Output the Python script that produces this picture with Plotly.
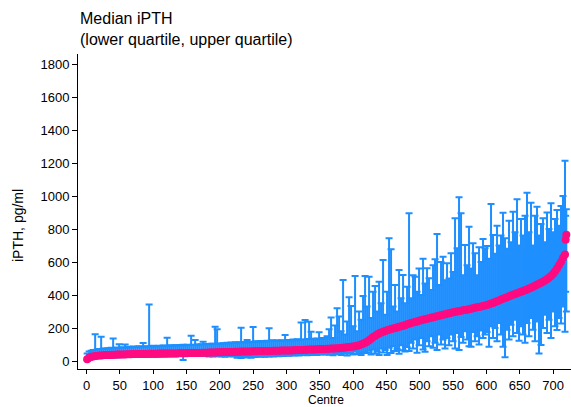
import plotly.graph_objects as go

# Centre rank (sorted by median iPTH)
centres = list(range(1, 719, 3)) + [719, 720]

median = [
    10, 20, 25, 28, 30, 32, 33, 34, 35, 36, 36, 37, 37, 38, 38, 39, 39, 40, 40, 40,
    41, 41, 41, 42, 42, 42, 42, 43, 43, 43, 43, 44, 44, 44, 44, 44, 45, 45, 45, 45,
    45, 46, 46, 46, 46, 46, 47, 47, 47, 47, 47, 48, 48, 48, 48, 49, 49, 49, 50, 50,
    50, 51, 51, 52, 52, 53, 53, 53, 54, 54, 54, 55, 55, 55, 56, 56, 56, 57, 57, 57,
    58, 58, 58, 59, 59, 59, 60, 60, 60, 61, 61, 61, 61, 62, 62, 62, 62, 63, 63, 63,
    63, 64, 64, 65, 65, 66, 66, 67, 67, 68, 68, 69, 69, 70, 70, 71, 71, 72, 73, 73,
    74, 74, 75, 75, 76, 77, 78, 79, 80, 82, 83, 85, 87, 88, 90, 93, 96, 100, 104, 110,
    117, 125, 135, 145, 152, 160, 166, 172, 177, 182, 186, 190, 194, 197, 200, 203, 207, 210, 213, 217,
    222, 226, 230, 233, 236, 240, 244, 247, 250, 253, 256, 259, 262, 265, 268, 271, 274, 277, 280, 283,
    286, 289, 292, 295, 298, 300, 303, 305, 307, 309, 311, 313, 316, 319, 322, 325, 328, 331, 334, 337,
    340, 344, 348, 352, 357, 362, 367, 372, 377, 382, 387, 392, 397, 402, 406, 410, 415, 419, 424, 429,
    434, 439, 444, 450, 456, 462, 468, 474, 480, 488, 496, 505, 515, 527, 542, 560, 580, 600, 625, 645,
    735, 765,
]

upper_q = [
    45, 58, 62, 66, 162, 70, 72, 147, 74, 76, 75, 78, 80, 137, 78, 82, 101, 80, 84, 100,
    82, 86, 84, 88, 85, 87, 90, 86, 109, 88, 90, 343, 89, 92, 88, 91, 93, 90, 94, 92,
    141, 93, 95, 92, 96, 94, 97, 95, 98, 96, 99, 97, 153, 98, 127, 100, 99, 102, 117, 101,
    103, 101, 105, 104, 208, 192, 106, 105, 108, 107, 110, 106, 112, 109, 114, 111, 113, 202, 115, 112,
    127, 114, 117, 206, 116, 119, 118, 121, 117, 120, 123, 198, 122, 125, 121, 124, 122, 126, 123, 158,
    125, 128, 124, 130, 127, 132, 129, 234, 131, 248, 133, 238, 178, 135, 132, 137, 174, 134, 139, 136,
    150, 192, 263, 140, 215, 319, 269, 180, 491, 160, 240, 386, 333, 210, 515, 180, 300, 250, 394, 515,
    330, 511, 260, 420, 455, 300, 480, 350, 612, 280, 420, 744, 677, 330, 460, 300, 552, 380, 521, 350,
    450, 895, 380, 520, 511, 420, 560, 400, 620, 470, 562, 501, 430, 580, 616, 770, 460, 600, 632, 490,
    592, 500, 653, 540, 865, 683, 992, 895, 520, 703, 580, 814, 560, 713, 653, 520, 690, 600, 740, 683,
    697, 620, 952, 764, 650, 820, 700, 760, 899, 744, 680, 850, 720, 905, 780, 980, 700, 860, 760, 880,
    1020, 780, 959, 700, 880, 935, 760, 830, 865, 720, 900, 800, 956, 780, 860, 915, 820, 940, 1000, 1214,
    880, 920,
]

lower_q = [
    4, 8, 12, 14, 16, 18, 18, 19, 20, 20, 21, 21, 22, 22, 22, 23, 23, 24, 24, 24,
    24, 25, 24, 25, 26, 25, 26, 26, 27, 26, 27, 27, 28, 27, 28, 28, 28, 29, 28, 29,
    29, 29, 30, 30, 29, 31, 30, 31, 6, 31, 32, 31, 32, 32, 33, 32, 33, 33, 34, 33,
    30, 28, 31, 27, 30, 29, 32, 28, 31, 26, 30, 29, 33, 27, 31, 20, 28, 18, 30, 22,
    22, 26, 20, 28, 24, 27, 30, 25, 29, 26, 31, 27, 32, 28, 30, 33, 29, 34, 31, 35,
    34, 32, 36, 33, 35, 37, 34, 38, 36, 39, 35, 40, 37, 41, 38, 36, 42, 39, 43, 40,
    44, 38, 50, 35, 48, 42, 55, 37, 46, 52, 33, 50, 45, 40, 58, 42, 49, 36, 52, 48,
    50, 62, 40, 70, 45, 58, 36, 75, 52, 66, 36, 80, 48, 90, 60, 72, 44, 95, 65, 58,
    85, 60, 110, 75, 130, 50, 95, 140, 70, 56, 120, 90, 150, 80, 110, 66, 160, 100, 130, 75,
    140, 95, 160, 120, 75, 170, 66, 145, 110, 180, 130, 90, 87, 175, 120, 150, 100, 185, 140, 160,
    175, 87, 210, 140, 200, 120, 230, 160, 87, 22, 190, 130, 220, 150, 250, 170, 123, 210, 160, 111,
    230, 150, 260, 190, 120, 240, 46, 97, 200, 280, 170, 250, 140, 300, 210, 188, 260, 228, 330, 178,
    420, 300,
]

y_ticks = [0, 200, 400, 600, 800, 1000, 1200, 1400, 1600, 1800]
x_ticks = [0, 50, 100, 150, 200, 250, 300, 350, 400, 450, 500, 550, 600, 650, 700]

err_plus = [u - m for u, m in zip(upper_q, median)]
err_minus = [m - l for m, l in zip(median, lower_q)]

BLUE = "#1E8FFF"
PINK = "#FF0A80"
FONT = "Liberation Sans, Arial, Helvetica, sans-serif"

fig = go.Figure()
fig.add_trace(go.Scatter(
    x=centres, y=median, mode="markers",
    marker=dict(color=PINK, size=8, line=dict(width=0)),
    error_y=dict(type="data", symmetric=False, array=err_plus, arrayminus=err_minus,
                 color=BLUE, thickness=2, width=3.5),
    showlegend=False, hoverinfo="skip",
))

L, T, W, H = 78, 54, 571, 407
plot_h = 369 - T
plot_w = W - L

fig.update_layout(
    width=W, height=H,
    margin=dict(l=L, r=0, t=T, b=H - 369, pad=0),
    paper_bgcolor="white", plot_bgcolor="white",
    font=dict(family=FONT, size=13, color="black"),
    xaxis=dict(range=[-12.75, 727], tickvals=x_ticks, showgrid=False, zeroline=False,
               showline=True, linecolor="black", linewidth=1, ticks="outside",
               ticklen=4, tickcolor="black", tickfont=dict(size=13)),
    yaxis=dict(range=[-48.5, 1860.6], tickvals=y_ticks, showgrid=False, zeroline=False,
               showline=True, linecolor="black", linewidth=1, ticks="outside",
               ticklen=5, tickcolor="black", tickfont=dict(size=13)),
    annotations=[
        dict(text="Median iPTH<br>(lower quartile, upper quartile)", xref="paper", yref="paper",
             x=0, y=1 + (T - 8) / plot_h, xanchor="left", yanchor="top", xshift=0,
             showarrow=False, align="left", font=dict(size=16, family=FONT)),
        dict(text="iPTH, pg/ml", xref="paper", yref="paper",
             x=-(L - 18) / plot_w, y=(369 - 226) / plot_h, xanchor="center", yanchor="middle",
             textangle=-90, showarrow=False, font=dict(size=14, family=FONT)),
        dict(text="Centre", xref="paper", yref="paper",
             x=(326 - L) / plot_w, y=-(400 - 369) / plot_h, xanchor="center", yanchor="middle",
             showarrow=False, font=dict(size=12, family=FONT)),
    ],
)

fig.write_html("out.html")
